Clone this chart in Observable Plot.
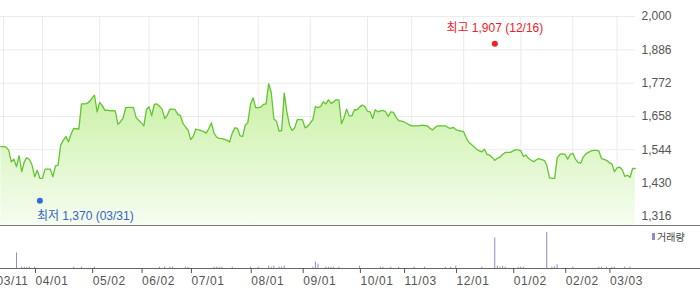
<!DOCTYPE html>
<html><head><meta charset="utf-8">
<script src="https://cdn.jsdelivr.net/npm/d3@7"></script>
<script src="https://cdn.jsdelivr.net/npm/@observablehq/plot@0.6"></script>
<style>
html,body{margin:0;padding:0;background:#fff;}
#chart{position:relative;width:700px;height:289px;overflow:hidden;}
#chart svg{display:block;}
.legend{position:absolute;left:652px;top:231px;font:10px "Noto Sans CJK KR",sans-serif;color:#444;display:flex;align-items:center;line-height:11px;}
.legend i{display:inline-block;width:3px;height:7px;background:#8f88c9;margin-right:2px;}
</style></head><body><div id="chart"></div>
<script>
// trading-day index of the first price value
const firstDay = -1;
const prices = [1555,1555,1553,1543,1503,1512,1486,1524,1469,1503,1517,1511,1491,1452,1474,1446,
1446,1478,1478,1478,1452,1489,1491,1560,1576,1589,1571,1598,1617,1616,1615,
1701,1701,1702,1708,1720,1731,1674,1706,1695,1679,1680,1677,1678,1677,1631,1640,1652,1688,1689,1689,1688,
1655,1645,1636,1626,1682,1691,1660,1699,1701,1693,1683,1651,1662,1683,1683,1682,1665,1662,1635,1622,
1611,1579,1590,1615,1612,1610,1606,1601,1617,1636,1600,1587,1583,1582,1580,1576,1571,1601,1619,1617,
1592,1590,1628,1637,1699,1722,1688,1688,1690,1699,1701,1770,1740,1649,1642,1608,1610,1738,1674,1628,
1610,1619,1647,1647,1647,1619,1624,1635,1647,1692,1688,1692,1708,1701,1715,1703,1708,1715,1715,1633,
1654,1683,1660,1660,1681,1681,1690,1697,1692,1676,1674,1651,1681,1674,1677,1679,1674,1658,1674,1672,
1655,1644,1642,1640,1635,1630,1626,1626,1626,1626,1628,1627,1626,1618,1612,1620,1626,1626,1626,1626,
1620,1617,1621,1613,1610,1608,1606,1585,1569,1562,1554,1546,1540,1537,1546,1528,1526,1518,1508,1515,
1519,1528,1535,1535,1535,1540,1544,1544,1540,1521,1526,1514,1508,1503,1510,1514,1510,1508,1491,1448,
1446,1446,1517,1528,1530,1528,1512,1528,1532,1512,1501,1498,1519,1530,1535,1540,1542,1542,1540,1514,
1511,1508,1500,1496,1469,1482,1485,1476,1453,1457,1450,1480,1480];

const tickDays = [0,15,37,56,75,98,118,140,157,177,199,219,236];
const tickLabels = ["03/11","04/01","05/02","06/02","07/01","08/01","09/01","10/01","11/03","12/01","01/02","02/02","03/03"];
const priceTicks = [1316,1430,1544,1658,1772,1886,2000];

const volDays =   [5,7,8,9,10,12,27,30,35,60,62,64,65,70,71,81,82,83,84,88,95,98,102,103,104,106,107,108,119,120,121,124,125,126,127,129,137,145,146,149,152,158,162,170,172,174,184,189,190,191,192,193,198,199,200,209,211,212,213,219,229,230,232,234,235,239,241];
const volValues = [36,3,3,3,3,3,3,3,3,3,3,3,3,3,3,3,3,3,3,3,3,3,5.5,3,5.5,3,3,5.5,3,15,10,3,3,3,3,3,5.5,3,3,3,3,3,3,3,3,5.5,3,71,5.5,3,4.7,3,3,3,3,84,3.5,3.5,8.6,3,3,3,3,3,3,3,3];

const highPoint = {day:189, value:1907, label:"최고 1,907 (12/16)"};
const lowPoint  = {day:14,  value:1370, label:"최저 1,370 (03/31)"};

const data = prices.map((p,i)=>({day:firstDay+i, price:p}));
const vol = volDays.map((d,i)=>({day:d, vol:volValues[i]}));
const labelOf = new Map(tickDays.map((d,i)=>[d, tickLabels[i]]));

const yMin = 1285, yMax = 2000;
const font = '"Liberation Sans", Arial, "Noto Sans CJK KR", sans-serif';

const gradientDefs = () => {
  const ns = "http://www.w3.org/2000/svg";
  const defs = document.createElementNS(ns, "defs");
  defs.innerHTML = '<linearGradient id="pg" x1="0" y1="0" x2="0" y2="1"><stop offset="0" stop-color="#c8f0a2"/><stop offset="1" stop-color="#f6fdf1"/></linearGradient>';
  return defs;
};

const p1 = Plot.plot({
  width:700, height:225, marginLeft:0, marginRight:65, marginTop:16, marginBottom:0,
  x:{domain:[-1.15, 243.1], axis:null},
  y:{domain:[yMin, yMax], axis:null},
  style:{fontFamily:font, fontSize:"12px", background:"#fff", overflow:"visible"},
  marks:[
    gradientDefs,
    Plot.ruleY(priceTicks, {stroke:"#ebebeb"}),
    Plot.ruleX(tickDays, {y1:yMin, y2:yMax, stroke:"#ebebeb"}),
    Plot.areaY(data, {x:"day", y1:yMin, y2:"price", fill:"url(#pg)"}),
    Plot.lineY(data, {x:"day", y:"price", stroke:"#62c630", strokeWidth:1.3}),
    Plot.axisY(priceTicks, {anchor:"right", label:null, tickSize:0, tickPadding:6, tickFormat:d3.format(","), color:"#555", fontSize:12}),
    Plot.dot([highPoint], {x:"day", y:"value", r:3, fill:"#f0202a"}),
    Plot.text([highPoint], {x:"day", y:"value", text:"label", dy:-16, fill:"#f0202a", fontSize:12}),
    Plot.dot([lowPoint], {x:"day", y:"value", r:3, fill:"#2e6fd4"}),
    Plot.text([lowPoint], {x:"day", y:"value", text:"label", dy:16, dx:-3, textAnchor:"start", fill:"#3565c4", fontSize:12})
  ]
});

const p2 = Plot.plot({
  width:700, height:64, marginLeft:0, marginRight:0, marginTop:0, marginBottom:21,
  x:{domain:[-1.15, 268.15], axis:null},
  y:{domain:[0,100], axis:null},
  style:{fontFamily:font, fontSize:"12px", background:"#fff", overflow:"visible", letterSpacing:"0.6px"},
  marks:[
    Plot.ruleY([100], {stroke:"#777"}),
    Plot.ruleX(vol, {x:"day", y1:0, y2:"vol", stroke:"#8f88c9"}),
    Plot.ruleY([0], {stroke:"#666"}),
    Plot.axisX(tickDays, {label:null, tickSize:5, tickPadding:3, tickFormat:d=>labelOf.get(d), textAnchor:"start", dx:-7, color:"#555", fontSize:12})
  ]
});

const chart = document.getElementById("chart");
chart.appendChild(p1);
chart.appendChild(p2);
const lg = document.createElement("div");
lg.className = "legend";
lg.innerHTML = '<i></i><span>거래량</span>';
chart.appendChild(lg);
</script></body></html>
